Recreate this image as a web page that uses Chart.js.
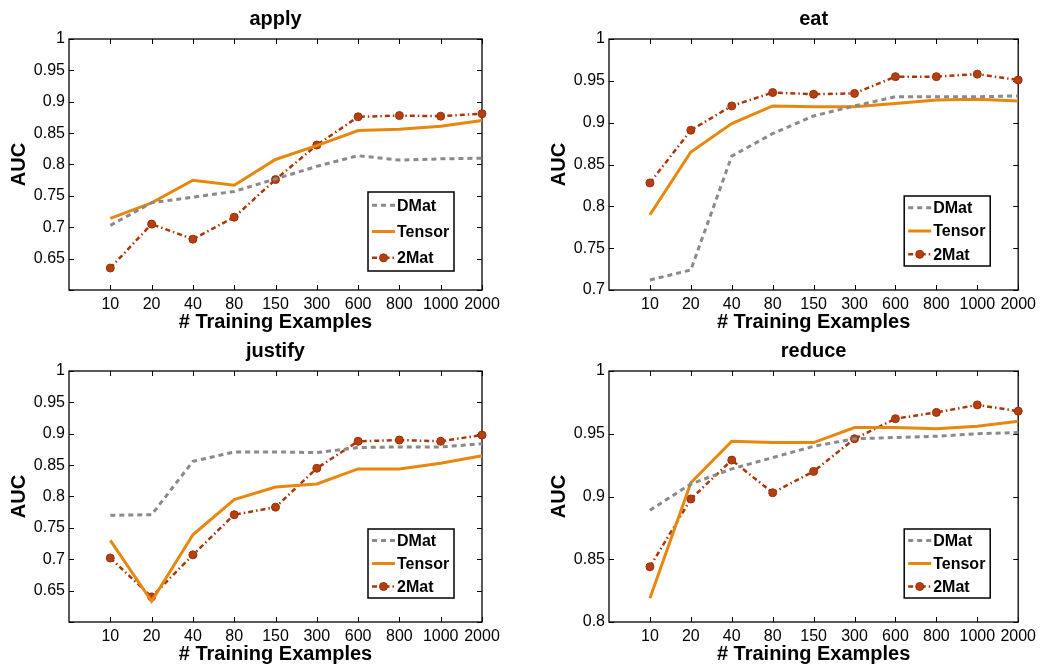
<!DOCTYPE html>
<html>
<head>
<meta charset="utf-8">
<script src="https://cdn.jsdelivr.net/npm/chart.js@4"></script>
<style>
  html, body { margin: 0; padding: 0; background: #fff; }
  #wrap { position: relative; width: 1041px; height: 664px; }
  #wrap canvas { position: absolute; }
</style>
</head>
<body>
<div id="wrap">
  <canvas id="c1" width="520" height="332" style="left:0;top:0"></canvas>
  <canvas id="c2" width="521" height="332" style="left:520px;top:0"></canvas>
  <canvas id="c3" width="520" height="332" style="left:0;top:332px"></canvas>
  <canvas id="c4" width="521" height="332" style="left:520px;top:332px"></canvas>
</div>
<script>
const sizes = ['10', '20', '40', '80', '150', '300', '600', '800', '1000', '2000'];
const seriesNames = ['DMat', 'Tensor', '2Mat'];

const applyDMat   = [0.703, 0.739, 0.748, 0.757, 0.777, 0.797, 0.814, 0.807, 0.809, 0.810];
const applyTensor = [0.714, 0.739, 0.775, 0.767, 0.808, 0.830, 0.854, 0.856, 0.861, 0.870];
const apply2Mat   = [0.635, 0.705, 0.681, 0.716, 0.776, 0.831, 0.876, 0.878, 0.877, 0.881];

const eatDMat   = [0.712, 0.724, 0.860, 0.887, 0.908, 0.920, 0.931, 0.931, 0.931, 0.932];
const eatTensor = [0.790, 0.865, 0.899, 0.920, 0.919, 0.919, 0.923, 0.927, 0.928, 0.926];
const eat2Mat   = [0.828, 0.891, 0.920, 0.936, 0.934, 0.935, 0.955, 0.955, 0.958, 0.951];

const justifyDMat   = [0.770, 0.771, 0.856, 0.871, 0.871, 0.870, 0.878, 0.879, 0.879, 0.884];
const justifyTensor = [0.730, 0.633, 0.739, 0.795, 0.815, 0.820, 0.844, 0.844, 0.853, 0.865];
const justify2Mat   = [0.702, 0.640, 0.707, 0.771, 0.783, 0.845, 0.888, 0.890, 0.888, 0.898];

const reduceDMat   = [0.889, 0.910, 0.922, 0.931, 0.940, 0.946, 0.947, 0.948, 0.950, 0.951];
const reduceTensor = [0.819, 0.911, 0.944, 0.943, 0.943, 0.955, 0.955, 0.954, 0.956, 0.960];
const reduce2Mat   = [0.844, 0.898, 0.929, 0.903, 0.920, 0.946, 0.962, 0.967, 0.973, 0.968];

const FONT = "'Liberation Sans', Arial, Helvetica, sans-serif";

// box + inward ticks, matlab style
const framePlugin = {
  id: 'frame',
  beforeDatasetsDraw(chart) {
    const {ctx, chartArea: a, scales} = chart;
    ctx.save();
    ctx.strokeStyle = '#000';
    ctx.lineWidth = 1.3;
    ctx.strokeRect(a.left, a.top, a.right - a.left, a.bottom - a.top);
    ctx.lineWidth = 1;
    ctx.beginPath();
    scales.y.ticks.forEach(t => {
      const y = Math.round(scales.y.getPixelForValue(t.value)) + 0.5;
      ctx.moveTo(a.left, y); ctx.lineTo(a.left + 5, y);
      ctx.moveTo(a.right, y); ctx.lineTo(a.right - 5, y);
    });
    for (let i = 1; i <= sizes.length; i++) {
      const x = Math.round(scales.x.getPixelForValue(i)) + 0.5;
      ctx.moveTo(x, a.bottom); ctx.lineTo(x, a.bottom - 5);
      ctx.moveTo(x, a.top); ctx.lineTo(x, a.top + 5);
    }
    ctx.stroke();
    ctx.restore();
  }
};

// legend box drawn inside the plot, lower right
const boxLegendPlugin = {
  id: 'boxLegend',
  afterDatasetsDraw(chart, args, opts) {
    const {ctx, chartArea: a} = chart;
    const w = 86, h = opts.height;
    const x1 = a.right - opts.right - w;
    const y1 = a.bottom - opts.bottom - h;
    ctx.save();
    ctx.fillStyle = '#fff';
    ctx.fillRect(x1, y1, w, h);
    ctx.strokeStyle = '#000';
    ctx.lineWidth = 1.5;
    ctx.strokeRect(x1, y1, w, h);
    chart.data.datasets.forEach((ds, i) => {
      const cy = y1 + h * (i + 0.5) / 3;
      ctx.strokeStyle = ds.borderColor;
      ctx.lineWidth = ds.borderWidth;
      ctx.setLineDash(ds.borderDash || []);
      ctx.beginPath();
      ctx.moveTo(x1 + 4, cy);
      ctx.lineTo(x1 + 27, cy);
      ctx.stroke();
      ctx.setLineDash([]);
      if (ds.pointRadius > 0) {
        ctx.beginPath();
        ctx.arc(x1 + 15.5, cy, ds.pointRadius, 0, Math.PI * 2);
        ctx.fillStyle = ds.pointBackgroundColor;
        ctx.fill();
        ctx.lineWidth = ds.pointBorderWidth;
        ctx.strokeStyle = ds.pointBorderColor;
        ctx.stroke();
      }
      ctx.fillStyle = '#000';
      ctx.font = 'bold 16px ' + FONT;
      ctx.textBaseline = 'middle';
      ctx.fillText(ds.label, x1 + 29, cy + 1);
    });
    ctx.restore();
  }
};

function makeSets(dmat, tensor, twomat) {
  const pts = arr => arr.map((v, i) => ({x: i + 1, y: v}));
  return [{
    label: seriesNames[0],
    data: pts(dmat),
    borderColor: '#8a8a8a',
    borderWidth: 3,
    borderDash: [5, 4],
    pointRadius: 0,
    clip: 8,
  }, {
    label: seriesNames[1],
    data: pts(tensor),
    borderColor: '#e8870e',
    borderWidth: 3,
    pointRadius: 0,
    clip: 8,
  }, {
    label: seriesNames[2],
    data: pts(twomat),
    borderColor: '#a8380b',
    borderWidth: 2.5,
    borderDash: [5, 3, 1.5, 3],
    pointRadius: 4,
    pointBackgroundColor: '#b5400f',
    pointBorderColor: '#9a300a',
    pointBorderWidth: 1,
    clip: 8,
  }];
}

function makeChart(id, title, sets, yMin, hideMin, isRight, legendOpts) {
  return new Chart(document.getElementById(id), {
    type: 'line',
    data: { datasets: sets },
    plugins: [framePlugin, boxLegendPlugin],
    options: {
      responsive: false,
      animation: false,
      events: [],
      layout: {
        padding: isRight ? {left: 20, right: 19, top: 0, bottom: 0} : {left: 0, right: 38, top: 0, bottom: 0}
      },
      scales: {
        x: {
          type: 'linear',
          min: 0,
          max: sizes.length,
          grid: { display: false, drawTicks: false },
          border: { display: false },
          afterFit: s => { s.height = 42; },
          ticks: {
            stepSize: 1,
            autoSkip: false,
            maxRotation: 0,
            padding: 5,
            color: '#000',
            font: { family: FONT, size: 16 },
            callback: v => (v >= 1 && v <= sizes.length) ? sizes[v - 1] : ''
          },
          title: {
            display: true,
            text: '# Training Examples',
            color: '#000',
            font: { family: FONT, size: 20, weight: 'bold' },
            padding: { top: 0, bottom: -2 }
          }
        },
        y: {
          min: yMin,
          max: 1,
          grid: { display: false, drawTicks: false },
          border: { display: false },
          afterFit: s => { s.width = 69; },
          ticks: {
            stepSize: 0.05,
            padding: 4,
            color: '#000',
            font: { family: FONT, size: 16 },
            callback: v => (hideMin && v < yMin + 1e-6) ? '' : String(Number(v.toFixed(2)))
          },
          title: {
            display: true,
            text: 'AUC',
            color: '#000',
            font: { family: FONT, size: 20, weight: 'bold' },
            padding: { top: 7, bottom: 0 }
          }
        }
      },
      plugins: {
        legend: { display: false },
        tooltip: { enabled: false },
        title: {
          display: true,
          text: title,
          fullSize: false,
          color: '#000',
          font: { family: FONT, size: 20, weight: 'bold' },
          padding: { top: 7, bottom: 8 }
        },
        boxLegend: legendOpts
      }
    }
  });
}

makeChart('c1', 'apply', makeSets(applyDMat, applyTensor, apply2Mat), 0.6, true, false, {right: 28, bottom: 19, height: 79});
makeChart('c2', 'eat', makeSets(eatDMat, eatTensor, eat2Mat), 0.7, false, true, {right: 28, bottom: 24, height: 70});
makeChart('c3', 'justify', makeSets(justifyDMat, justifyTensor, justify2Mat), 0.6, true, false, {right: 28, bottom: 24, height: 69});
makeChart('c4', 'reduce', makeSets(reduceDMat, reduceTensor, reduce2Mat), 0.8, false, true, {right: 28, bottom: 24, height: 69});
</script>
</body>
</html>
